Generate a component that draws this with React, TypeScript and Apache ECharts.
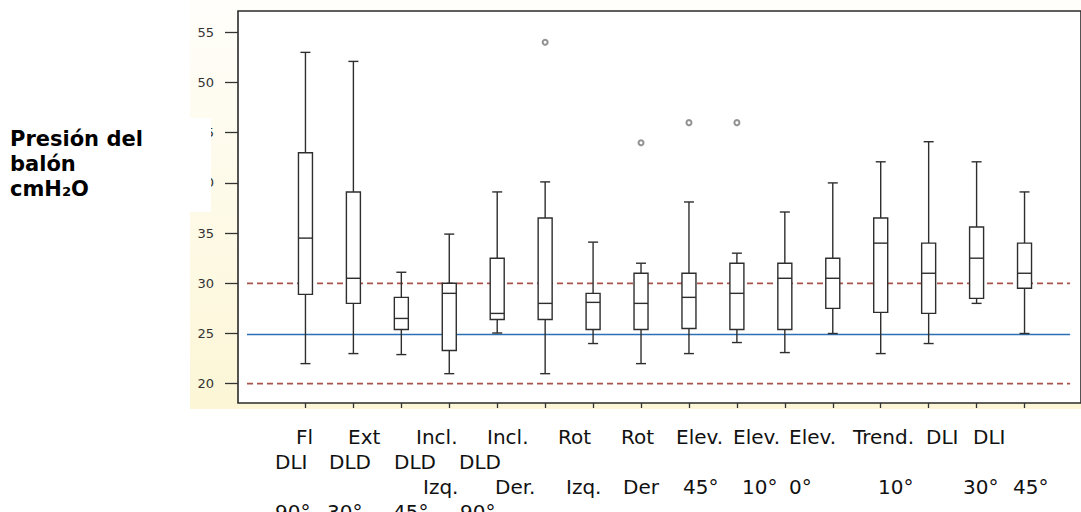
import React, { useEffect, useRef } from "react";
import * as echarts from "echarts";

// Box statistics per position (16 positions)
const positions = [1, 2, 3, 4, 5, 6, 7, 8, 9, 10, 11, 12, 13, 14, 15, 16];
const lows = [22, 23, 22.9, 21, 25.05, 21, 24, 22, 23, 24.1, 23.1, 25, 23, 24, 28, 25];
const q1s = [28.9, 28, 25.4, 23.3, 26.4, 26.4, 25.4, 25.4, 25.5, 25.4, 25.4, 27.5, 27.1, 27, 28.5, 29.5];
const medians = [34.5, 30.5, 26.5, 29, 27, 28, 28.1, 28, 28.6, 29, 30.5, 30.5, 34, 31, 32.5, 31];
const q3s = [43, 39.1, 28.6, 30, 32.5, 36.5, 29, 31, 31, 32, 32, 32.5, 36.5, 34, 35.6, 34];
const highs = [53, 52.1, 31.1, 34.9, 39.1, 40.1, 34.1, 32, 38.1, 33, 37.1, 40, 42.1, 44.1, 42.1, 39.1];
const outliers: [number, number][] = [
  [6, 54],
  [8, 44],
  [9, 46],
  [10, 46],
];

// Reference lines
const targetLine = 24.9;
const limitLines = [30, 20];

// Y tick labels
const yTicks = [20, 25, 30, 35, 40, 45, 50, 55];

// Axis label rows (as laid out in the reference)
const labelRow1 = ["Fl", "Ext", "Incl.", "Incl.", "Rot", "Rot", "Elev.", "Elev.", "Elev.", "Trend.", "DLI", "DLI"];
const labelRow2 = ["DLI", "DLD", "DLD", "DLD"];
const labelRow3 = ["Izq.", "Der.", "Izq.", "Der", "45°", "10°", "0°", "10°", "30°", "45°"];
const labelRow4 = ["90°", "30°", "45°", "90°"];
const titleText = "Presión del\nbalón\ncmH₂O";

// layout (left x of each word per row)
const row1X = [296, 348, 416, 487, 558, 621, 676, 733, 789, 853, 926, 973];
const row2X = [275, 329, 394, 459];
const row3X = [423, 495, 566, 623, 683, 742, 789, 878, 963, 1013];
const row4X = [275, 327, 393, 460];
const rowY = [437, 462, 487, 512];

export default function App() {
  const ref = useRef<HTMLDivElement>(null);
  useEffect(() => {
    if (!ref.current) return;
    const chart = echarts.init(ref.current, undefined, { renderer: "svg" });
    const boxData = positions.map((p, i) => [p, lows[i], q1s[i], medians[i], q3s[i], highs[i]]);
    const font = '"DejaVu Sans", sans-serif';
    const wordTexts: any[] = [];
    const rows = [labelRow1, labelRow2, labelRow3, labelRow4];
    const rowsX = [row1X, row2X, row3X, row4X];
    rows.forEach((row, r) => {
      row.forEach((w, i) => {
        wordTexts.push({
          type: "text",
          x: rowsX[r][i],
          y: rowY[r],
          z: 50,
          style: { text: w, font: `20px ${font}`, fill: "#111", verticalAlign: "middle", align: "left" },
        });
      });
    });
    const xMin = -0.4072;
    const xMax = 17.178;
    const lineX0 = -0.22;
    const lineX1 = 16.95;
    chart.setOption({
      animation: false,
      graphic: [
        {
          type: "rect",
          z: -10,
          shape: { x: 190, y: 0, width: 900, height: 409 },
          style: {
            fill: new echarts.graphic.LinearGradient(0, 0, 0, 1, [
              { offset: 0, color: "#fffefa" },
              { offset: 1, color: "#fcf6d6" },
            ]),
          },
        },
        {
          type: "rect",
          z: 40,
          shape: { x: 0, y: 118, width: 211, height: 94 },
          style: { fill: "#ffffff" },
        },
        {
          type: "text",
          z: 50,
          x: 10,
          y: 126.5,
          style: {
            text: titleText,
            font: `bold 21px ${font}`,
            lineHeight: 25,
            fill: "#000",
            verticalAlign: "top",
            align: "left",
          },
        },
        ...wordTexts,
      ],
      grid: {
        left: 238,
        top: 11,
        width: 846,
        height: 392,
        show: true,
        backgroundColor: "#ffffff",
        borderColor: "#2a2a2a",
        borderWidth: 1.6,
      },
      xAxis: {
        type: "value",
        min: xMin,
        max: xMax,
        axisLine: { show: false, onZero: false },
        splitLine: { show: false },
        axisLabel: { show: false },
        axisTick: {
          show: true,
          inside: false,
          customValues: positions,
          length: 5,
          lineStyle: { color: "#333", width: 1.3 },
        },
      },
      yAxis: {
        type: "value",
        min: 18.078,
        max: 57.12,
        axisLine: { show: false, onZero: false },
        splitLine: { show: false },
        axisTick: {
          show: true,
          inside: false,
          customValues: yTicks,
          length: 13,
          lineStyle: { color: "#333", width: 1.3 },
        },
        axisLabel: {
          customValues: yTicks,
          margin: 24,
          color: "#333",
          fontSize: 13,
          fontFamily: font,
        },
      },
      series: [
        {
          type: "line",
          data: [
            [lineX0, targetLine],
            [lineX1, targetLine],
          ],
          showSymbol: false,
          symbol: "none",
          lineStyle: { color: "#2b70b2", width: 1.6 },
          z: 2,
        },
        ...limitLines.map((v) => ({
          type: "line",
          data: [
            [lineX0, v],
            [lineX1, v],
          ],
          showSymbol: false,
          symbol: "none",
          lineStyle: { color: "#a8544d", width: 1.7, type: [6, 4] },
          z: 2,
        })),
        {
          type: "custom",
          z: 3,
          data: boxData,
          encode: { x: 0, y: [1, 2, 3, 4, 5] },
          renderItem: (_params: any, api: any) => {
            const x = api.value(0);
            const lo = api.coord([x, api.value(1)]);
            const q1 = api.coord([x, api.value(2)]);
            const md = api.coord([x, api.value(3)]);
            const q3 = api.coord([x, api.value(4)]);
            const hi = api.coord([x, api.value(5)]);
            const hw = 7;
            const cw = 5;
            const st = { stroke: "#2e2e2e", lineWidth: 1.4, fill: "none" };
            return {
              type: "group",
              children: [
                { type: "line", shape: { x1: lo[0], y1: lo[1], x2: q1[0], y2: q1[1] }, style: st },
                { type: "line", shape: { x1: hi[0], y1: hi[1], x2: q3[0], y2: q3[1] }, style: st },
                { type: "line", shape: { x1: lo[0] - cw, y1: lo[1], x2: lo[0] + cw, y2: lo[1] }, style: st },
                { type: "line", shape: { x1: hi[0] - cw, y1: hi[1], x2: hi[0] + cw, y2: hi[1] }, style: st },
                {
                  type: "rect",
                  shape: { x: q3[0] - hw, y: q3[1], width: hw * 2, height: q1[1] - q3[1] },
                  style: { stroke: "#2e2e2e", lineWidth: 1.4, fill: "#fff" },
                },
                { type: "line", shape: { x1: md[0] - hw, y1: md[1], x2: md[0] + hw, y2: md[1] }, style: st },
              ],
            };
          },
        },
        {
          type: "scatter",
          z: 4,
          data: outliers,
          symbol: "emptyCircle",
          symbolSize: 5,
          itemStyle: { color: "#777", borderColor: "#777", borderWidth: 1 },
        },
      ],
    });
    return () => chart.dispose();
  }, []);
  return (
    <div
      ref={ref}
      style={{ position: "fixed", left: 0, top: 0, width: 1081, height: 512, background: "#fff" }}
    />
  );
}
